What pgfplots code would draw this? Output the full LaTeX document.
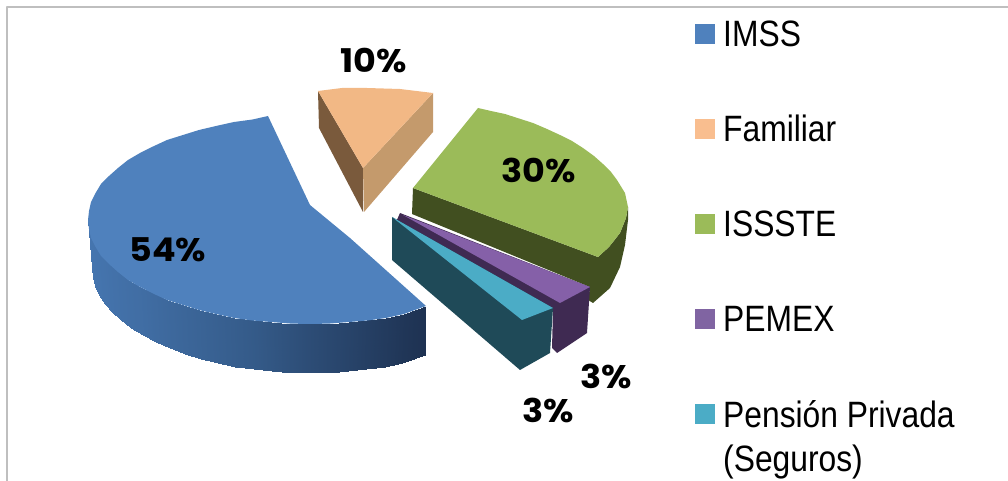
\documentclass[border=0pt]{standalone}
\usepackage{fontspec}
\setmainfont{Liberation Sans}
\newfontfamily\pctfont{Poppins}
\usepackage{pgfplots}
\pgfplotsset{compat=1.18}
\definecolor{cblue}{HTML}{4F81BD}
\definecolor{corange}{HTML}{F2B885}
\definecolor{lorange}{HTML}{F9BE8F}
\definecolor{cgreen}{HTML}{9BBB59}
\definecolor{cpurple}{HTML}{8560A8}
\definecolor{lpurple}{HTML}{8064A2}
\definecolor{cteal}{HTML}{4BACC6}
\definecolor{dteal}{HTML}{1F4A58}
\definecolor{dpurple}{HTML}{3F2A52}
\definecolor{dgreen}{HTML}{414F20}
\definecolor{dbrown}{HTML}{7A5A3C}
\definecolor{ctan}{HTML}{C49A6C}
\definecolor{framecol}{HTML}{BFBFBF}
\newcommand{\leg}[1]{\fontsize{27.5}{33}\selectfont #1}
\newcommand{\pct}[1]{\pctfont\bfseries\fontsize{24.5}{28}\selectfont #1}
\begin{document}
\begin{tikzpicture}
\path[use as bounding box] (0,0) rectangle (756pt,360.75pt);
\begin{axis}[
  at={(0,0)}, anchor=south west,
  scale only axis, width=756pt, height=360.75pt,
  xmin=0, xmax=1008, ymin=0, ymax=481, y dir=reverse,
  axis lines=none, clip=false,
  colormap={sidegrad}{rgb255(0cm)=(70,118,176) rgb255(1cm)=(52,90,136) rgb255(2cm)=(30,50,82)},
  point meta min=0, point meta max=1,
  every axis plot/.append style={line join=round},
]
% frame
\addplot[framecol, line width=1pt] coordinates {(7,481) (7,7) (1008,7)};
% IMSS side
\addplot[patch, patch type=rectangle, shader=interp, point meta=explicit] table[x=x,y=y,meta=c] {
x y c
88 220 0
89 229 .01
93 277 .01
92 268 0
89 229 .01
91 238 .02
95 286 .02
93 277 .01
91 238 .02
95.6 247 .035
99.4 295 .035
95 286 .02
95.6 247 .035
101 256 .05
105 304 .05
99.4 295 .035
101 256 .05
109 264 .075
112 312 .075
105 304 .05
109 264 .075
118 272 .10
121 320 .10
112 312 .075
118 272 .10
128 280 .125
131.4 328 .125
121 320 .10
128 280 .125
140 287 .15
143 335 .15
131.4 328 .125
140 287 .15
153 293.5 .195
156 342 .195
143 335 .15
153 293.5 .195
167 300 .24
170 348 .24
156 342 .195
167 300 .24
183 305 .285
185 354 .285
170 348 .24
183 305 .285
199 310 .33
201 359 .33
185 354 .285
199 310 .33
216 314 .38
218 363 .38
201 359 .33
216 314 .38
234 318 .43
235 367 .43
218 363 .38
234 318 .43
252.5 320.5 .49
253.6 369.4 .49
235 367 .43
252.5 320.5 .49
271 322 .55
272 371 .55
253.6 369.4 .49
271 322 .55
291 323.6 .61
291 372.6 .61
272 371 .55
291 323.6 .61
310 324 .67
310 373 .67
291 372.6 .61
310 324 .67
329 323.6 .725
329 372.6 .725
310 373 .67
329 323.6 .725
349 322 .78
348 371 .78
329 372.6 .725
349 322 .78
367.5 320.5 .835
366.4 369.4 .835
348 371 .78
367.5 320.5 .835
386 318 .89
385 367 .89
366.4 369.4 .835
386 318 .89
404 314 .945
402 363 .945
385 367 .89
404 314 .945
426 306 1
425 355 1
402 363 .945
};
% IMSS top
\addplot[fill=cblue, draw=none] coordinates {(268,116) (252.5,119.5) (234,122) (216,126) (199,130) (183,135) (167,140) (153,146.5) (140,153) (128,160) (118,168) (109,176) (101,184) (95.6,193) (91,202) (89,211) (88,220) (89,229) (91,238) (95.6,247) (101,256) (109,264) (118,272) (128,280) (140,287) (153,293.5) (167,300) (183,305) (199,310) (216,314) (234,318) (252.5,320.5) (271,322) (291,323.6) (310,324) (329,323.6) (349,322) (367.5,320.5) (386,318) (404,314) (426,306) (350,238) (310,205)} -- cycle;
% Familiar
\addplot[fill=dbrown, draw=none] coordinates {(318,91) (363,168) (363,212) (319,128)} -- cycle;
\addplot[fill=ctan, draw=none] coordinates {(433,93) (363,168) (364,212) (433,132)} -- cycle;
\addplot[fill=corange, draw=none] coordinates {(318,91) (342,88) (367,88) (400,89) (433,93) (363,168)} -- cycle;
% ISSSTE
\addplot[fill=dgreen, draw=none] coordinates {(413,188) (598,257) (609,247) (620,233) (626,218) (628,207) (628,220) (625,245) (620,267) (610,288) (593,303) (588,300) (590,287) (412,214)} -- cycle;
\addplot[fill=cgreen, draw=none] coordinates {(478,108) (491,111) (505,114) (519,118.5) (533,123) (547,129) (560,135) (572,141) (583,148) (594,156) (603,164) (611,172) (617,180) (625,193) (628,207) (626,218) (620,233) (609,247) (598,257) (413,188)} -- cycle;
% PEMEX
\addplot[fill=dpurple, draw=none] coordinates {(400,213) (590,287) (587,333) (557,353) (552,348) (553,310) (396,222)} -- cycle;
\addplot[fill=cpurple, draw=none] coordinates {(403,215) (590,287) (560,303)} -- cycle;
% Pension
\addplot[fill=dteal, draw=none] coordinates {(392,217) (553,308) (550,353) (520,370) (392,260)} -- cycle;
\addplot[fill=cteal, draw=none] coordinates {(392,217) (553,308) (522,320)} -- cycle;
% legend keys
\addplot[fill=cblue, draw=none] coordinates {(695,24) (715,24) (715,44) (695,44)} -- cycle;
\addplot[fill=lorange, draw=none] coordinates {(695,119) (715,119) (715,139) (695,139)} -- cycle;
\addplot[fill=cgreen, draw=none] coordinates {(695,214) (715,214) (715,234) (695,234)} -- cycle;
\addplot[fill=lpurple, draw=none] coordinates {(695,309) (715,309) (715,329) (695,329)} -- cycle;
\addplot[fill=cteal, draw=none] coordinates {(695,404) (715,404) (715,424) (695,424)} -- cycle;
% legend text
\node[anchor=base west, xscale=.867, inner sep=0pt] at (axis cs:723,47) {\leg{IMSS}};
\node[anchor=base west, xscale=.867, inner sep=0pt] at (axis cs:723,142) {\leg{Familiar}};
\node[anchor=base west, xscale=.867, inner sep=0pt] at (axis cs:723,237) {\leg{ISSSTE}};
\node[anchor=base west, xscale=.867, inner sep=0pt] at (axis cs:723,332) {\leg{PEMEX}};
\node[anchor=base west, xscale=.867, inner sep=0pt] at (axis cs:723,427) {\leg{Pensión Privada}};
\node[anchor=base west, xscale=.867, inner sep=0pt] at (axis cs:723,471) {\leg{(Seguros)}};
% data labels
\node[anchor=base, xscale=1.07, inner sep=0pt] at (axis cs:168,262) {\pct{54\%}};
\node[anchor=base, xscale=1.07, inner sep=0pt] at (axis cs:374,73) {\pct{10\%}};
\node[anchor=base, xscale=1.07, inner sep=0pt] at (axis cs:539,183) {\pct{30\%}};
\node[anchor=base, xscale=1.07, inner sep=0pt] at (axis cs:606,388) {\pct{3\%}};
\node[anchor=base, xscale=1.07, inner sep=0pt] at (axis cs:548,422) {\pct{3\%}};
\end{axis}
\end{tikzpicture}
\end{document}
